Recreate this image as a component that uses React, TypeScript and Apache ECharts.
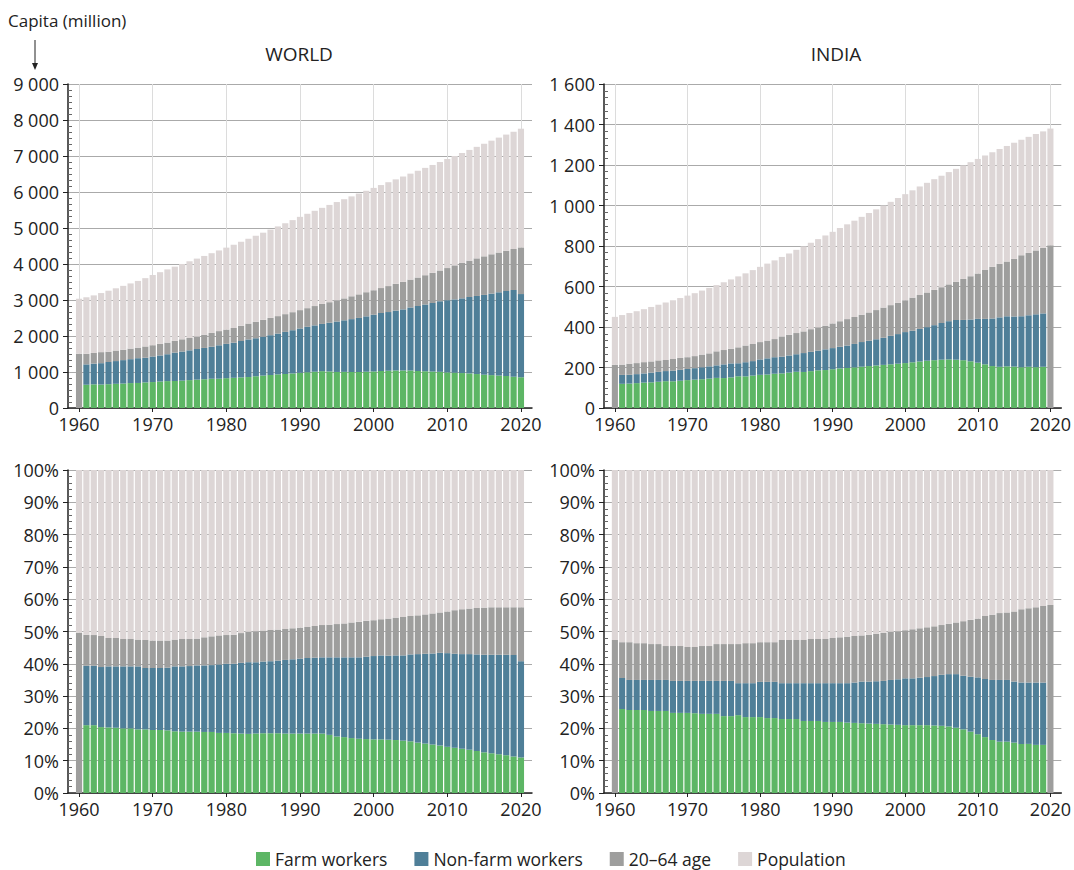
import React, { useEffect, useRef } from "react";
import * as echarts from "echarts";

const years: number[] = [];
for (let y = 1960; y <= 2020; y++) years.push(y);
// padding bands on each side of the year range
const categories = ["1959", ...years.map(String), "2021"];
const decadeTicks = [1960, 1970, 1980, 1990, 2000, 2010, 2020];

const seriesNames = ["Farm workers", "Non-farm workers", "20–64 age", "Population"];
const colors = ["#5db665", "#4f7f98", "#9e9e9d", "#ddd6d6"];

// World population (million)
const worldPop = [
  3035, 3076, 3128, 3193, 3258, 3325, 3393, 3461, 3530, 3607,
  3695, 3773, 3850, 3926, 4001, 4076, 4150, 4224, 4300, 4377,
  4455, 4535, 4618, 4701, 4785, 4870, 4956, 5044, 5132, 5219,
  5310, 5395, 5478, 5560, 5641, 5721, 5800, 5878, 5956, 6034,
  6114, 6193, 6272, 6351, 6430, 6510, 6590, 6670, 6751, 6833,
  6917, 7000, 7084, 7169, 7254, 7340, 7426, 7511, 7595, 7677,
  7758,
];
// cumulative shares of population (%)
const worldFarmPct = [
  null, 21.0, 21.0, 20.4, 20.3, 20.2, 20.0, 20.0, 19.7, 19.7,
  19.5, 19.5, 19.4, 19.1, 19.0, 19.0, 19.0, 18.9, 18.9, 18.6,
  18.6, 18.5, 18.4, 18.3, 18.4, 18.5, 18.5, 18.5, 18.4, 18.4,
  18.4, 18.4, 18.4, 18.4, 18.0, 17.5, 17.3, 17.0, 16.8, 16.7,
  16.6, 16.6, 16.5, 16.4, 16.2, 16.0, 15.6, 15.3, 15.0, 14.7,
  14.3, 14.0, 13.7, 13.4, 13.0, 12.6, 12.3, 12.0, 11.7, 11.3,
  11.0,
];
const worldWorkersPct = [
  null, 39.4, 39.4, 39.0, 39.2, 39.2, 39.2, 39.2, 39.2, 38.7,
  38.7, 38.7, 38.8, 39.2, 39.2, 39.3, 39.5, 39.5, 39.6, 39.8,
  40.0, 40.0, 40.3, 40.5, 40.5, 40.7, 40.8, 41.0, 41.2, 41.4,
  41.6, 41.8, 41.9, 42.0, 42.0, 42.0, 42.0, 42.0, 42.0, 42.2,
  42.4, 42.6, 42.5, 42.6, 42.6, 42.9, 43.0, 43.1, 43.2, 43.4,
  43.3, 43.1, 43.0, 43.0, 42.9, 42.8, 42.8, 42.8, 42.8, 42.7,
  40.8,
];
const worldAgePct = [
  49.6, 49.0, 48.9, 48.6, 48.0, 48.0, 47.7, 47.7, 47.5, 47.4,
  47.2, 47.2, 47.2, 47.5, 47.7, 47.7, 47.8, 48.2, 48.5, 48.8,
  48.9, 49.0, 49.5, 49.9, 50.1, 50.3, 50.5, 50.6, 50.8, 51.0,
  51.2, 51.4, 51.7, 52.0, 52.1, 52.3, 52.5, 52.8, 53.0, 53.3,
  53.5, 53.8, 54.0, 54.3, 54.5, 54.8, 55.0, 55.3, 55.6, 55.9,
  56.2, 56.6, 56.9, 57.1, 57.3, 57.4, 57.5, 57.5, 57.5, 57.5,
  57.5,
];

// India population (million)
const indiaPop = [
  450, 459, 469, 478, 488, 499, 510, 521, 532, 543,
  555, 567, 580, 593, 607, 621, 635, 650, 665, 681,
  697, 713, 729, 746, 763, 781, 798, 816, 834, 852,
  870, 889, 907, 925, 944, 963, 981, 1000, 1018, 1037,
  1056, 1075, 1094, 1112, 1130, 1147, 1165, 1181, 1198, 1214,
  1230, 1247, 1263, 1279, 1294, 1310, 1325, 1339, 1353, 1366,
  1380,
];
const indiaFarmPct = [
  null, 26.0, 25.7, 25.7, 25.7, 25.4, 25.4, 25.4, 24.8, 24.8,
  24.8, 24.7, 24.5, 24.5, 24.5, 23.8, 23.8, 24.1, 23.5, 23.5,
  23.5, 23.2, 23.2, 22.9, 22.9, 22.9, 22.3, 22.3, 22.3, 22.0,
  22.0, 22.0, 21.8, 21.7, 21.6, 21.5, 21.4, 21.3, 21.2, 21.1,
  21.0, 21.0, 21.0, 21.0, 20.9, 20.8, 20.6, 20.2, 19.7, 19.0,
  18.2, 17.3, 16.4, 15.9, 15.9, 15.6, 15.2, 15.2, 14.9, 14.9,
  null,
];
const indiaWorkersPct = [
  null, 35.6, 35.0, 35.0, 35.0, 35.0, 35.0, 35.0, 34.7, 34.7,
  34.7, 34.7, 34.7, 34.7, 34.7, 34.7, 34.7, 34.0, 34.0, 34.0,
  34.4, 34.4, 34.4, 34.0, 34.0, 34.0, 34.0, 34.0, 34.0, 34.0,
  34.0, 34.0, 34.0, 34.2, 34.5, 34.5, 34.6, 34.7, 35.0, 35.2,
  35.5, 35.5, 35.7, 35.9, 36.2, 36.6, 36.8, 36.8, 36.3, 36.0,
  35.8, 35.3, 35.0, 35.0, 35.0, 34.5, 34.2, 34.2, 34.2, 34.2,
  null,
];
const indiaAgePct = [
  47.4, 46.7, 46.7, 46.4, 46.4, 46.1, 46.1, 45.5, 45.5, 45.5,
  45.2, 45.2, 45.5, 45.5, 46.1, 46.1, 46.1, 46.1, 46.4, 46.4,
  46.7, 46.7, 46.7, 47.4, 47.4, 47.4, 47.4, 47.7, 47.7, 47.7,
  48.0, 48.2, 48.4, 48.6, 48.8, 49.0, 49.3, 49.6, 49.9, 50.1,
  50.4, 50.7, 51.0, 51.3, 51.6, 52.0, 52.4, 52.8, 53.2, 53.6,
  54.0, 54.8, 55.2, 55.7, 55.9, 56.2, 56.9, 57.2, 57.5, 57.9,
  58.2,
];

const FONT = "'Open Sans', sans-serif";
const TXT = "#222";

function buildSeries(
  pop: number[],
  farm: (number | null)[],
  workers: (number | null)[],
  age: number[],
  axisIdx: number,
  absolute: boolean
) {
  const layers: (number | null)[][] = [[null], [null], [null], [null]];
  years.forEach((_, i) => {
    const k = absolute ? pop[i] / 100 : 1;
    const f = farm[i];
    const w = workers[i];
    layers[0].push(f == null ? null : f * k);
    layers[1].push(f == null || w == null ? null : (w - f) * k);
    layers[2].push((age[i] - (w ?? 0)) * k);
    layers[3].push((100 - age[i]) * k);
  });
  layers.forEach((l) => l.push(null));
  return layers.map((vals, s) => ({
    type: "bar",
    name: seriesNames[s],
    stack: "s" + axisIdx,
    xAxisIndex: axisIdx,
    yAxisIndex: axisIdx,
    barWidth: "84%",
    itemStyle: { color: colors[s] },
    data: vals,
  }));
}

const grids = [
  { left: 68, top: 84, width: 464, height: 324 },
  { left: 604, top: 84, width: 464, height: 324 },
  { left: 68, top: 470, width: 464, height: 323 },
  { left: 604, top: 470, width: 464, height: 323 },
];

const thousands = (v: number) =>
  v >= 1000 ? `${Math.floor(v / 1000)} ${String(v % 1000).padStart(3, "0")}` : String(v);

const yDefs = [
  { max: 9000, interval: 1000, fmt: thousands },
  { max: 1600, interval: 200, fmt: thousands },
  { max: 100, interval: 10, fmt: (v: number) => v + "%" },
  { max: 100, interval: 10, fmt: (v: number) => v + "%" },
];

// hidden category axes that place the bars
const xCat = grids.map((_, i) => ({
  type: "category",
  gridIndex: i,
  position: "bottom",
  data: categories,
  boundaryGap: true,
  axisLine: { show: false },
  axisTick: { show: false },
  axisLabel: { show: false },
  splitLine: { show: false },
}));

// visible year axes (same span as the category bands)
const xShow = grids.map((_, i) => ({
  type: "value",
  gridIndex: i,
  position: "bottom",
  min: 1958.5,
  max: 2021.5,
  axisLine: { show: true, onZero: false, lineStyle: { color: TXT, width: 1.5 } },
  axisTick: { show: true, customValues: decadeTicks, length: 4, lineStyle: { color: TXT } },
  axisLabel: {
    customValues: decadeTicks,
    formatter: (v: number) => String(v),
    color: TXT,
    fontSize: 18,
    fontFamily: FONT,
    margin: 7,
  },
  splitLine: { show: true, lineStyle: { color: "#dcdcdc", width: 1 } },
}));

const yAxesMain = yDefs.map((d, i) => ({
  type: "value",
  gridIndex: i,
  min: 0,
  max: d.max,
  interval: d.interval,
  axisLine: { show: true, onZero: false, lineStyle: { color: TXT, width: 1.5 } },
  axisTick: { show: true, length: 5, lineStyle: { color: TXT } },
  axisLabel: { formatter: d.fmt, color: TXT, fontSize: 18, fontFamily: FONT, margin: 9 },
  splitLine: { show: true, lineStyle: { color: "#aaaaaa", width: 1 } },
}));

const yAxesMinor = yDefs.map((d, i) => ({
  type: "value",
  gridIndex: i,
  position: "left",
  min: 0,
  max: d.max,
  interval: d.interval,
  axisLine: { show: false, onZero: false },
  axisTick: { show: false, inside: true },
  minorTick: { show: true, splitNumber: i < 2 ? 6 : 5, length: 4, lineStyle: { color: "#666" } },
  axisLabel: { show: false },
  splitLine: { show: false },
}));

const series = [
  ...buildSeries(worldPop, worldFarmPct, worldWorkersPct, worldAgePct, 0, true),
  ...buildSeries(indiaPop, indiaFarmPct, indiaWorkersPct, indiaAgePct, 1, true),
  ...buildSeries(worldPop, worldFarmPct, worldWorkersPct, worldAgePct, 2, false),
  ...buildSeries(indiaPop, indiaFarmPct, indiaWorkersPct, indiaAgePct, 3, false),
];

const option = {
  animation: false,
  backgroundColor: "#fff",
  textStyle: { fontFamily: FONT },
  grid: grids,
  xAxis: [...xCat, ...xShow],
  yAxis: [...yAxesMain, ...yAxesMinor],
  legend: {
    data: seriesNames,
    left: 251,
    top: 845,
    padding: 5,
    icon: "rect",
    itemWidth: 14,
    itemHeight: 14,
    itemGap: 27,
    textStyle: { color: TXT, fontSize: 17.5, lineHeight: 18, fontFamily: FONT },
  },
  graphic: [
    {
      type: "text",
      x: 8,
      y: 20,
      style: { text: "Capita (million)", fill: TXT, font: `17px ${FONT}`, textVerticalAlign: "middle" },
    },
    {
      type: "line",
      shape: { x1: 35, y1: 40, x2: 35, y2: 66 },
      style: { stroke: TXT, lineWidth: 1 },
    },
    {
      type: "polygon",
      shape: { points: [[32, 63], [38, 63], [35, 70]] },
      style: { fill: TXT },
    },
    {
      type: "text",
      x: 299,
      y: 54,
      style: { text: "WORLD", fill: TXT, font: `19px ${FONT}`, textAlign: "center", textVerticalAlign: "middle" },
    },
    {
      type: "text",
      x: 836,
      y: 54,
      style: { text: "INDIA", fill: TXT, font: `19px ${FONT}`, textAlign: "center", textVerticalAlign: "middle" },
    },
  ],
  series,
};

export default function App() {
  const ref = useRef<HTMLDivElement>(null);
  useEffect(() => {
    if (!ref.current) return;
    const chart = echarts.init(ref.current, null, { renderer: "svg" });
    chart.setOption(option as any);
    return () => chart.dispose();
  }, []);
  return (
    <div
      ref={ref}
      style={{ position: "fixed", left: 0, top: 0, width: 1074, height: 870, background: "#fff" }}
    />
  );
}
